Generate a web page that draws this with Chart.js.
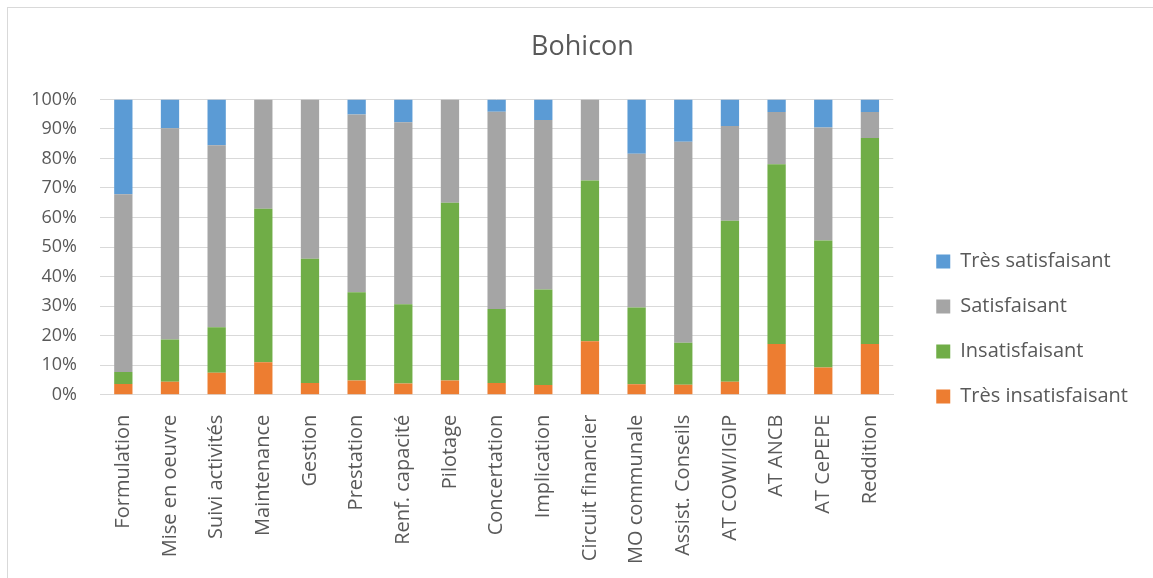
<!DOCTYPE html>
<html lang="fr">
<head>
  <meta charset="UTF-8" />
  <title>Bohicon</title>
  <script src="https://cdn.jsdelivr.net/npm/chart.js"></script>
  <style>
    body { margin: 0; background: #fff; overflow: hidden; }
    .frame {
      position: absolute; left: 7px; top: 7px;
      width: 1160px; height: 580px;
      border: 1px solid #d9d9d9;
    }
    canvas { display: block; }
  </style>
</head>
<body>
  <div class="frame">
    <canvas id="chart" width="1145" height="570"></canvas>
  </div>

  <script>
    // categories (x axis)
    const categories = [
      'Formulation', 'Mise en oeuvre', 'Suivi activités', 'Maintenance', 'Gestion',
      'Prestation', 'Renf. capacité', 'Pilotage', 'Concertation', 'Implication',
      'Circuit financier', 'MO communale', 'Assist. Conseils', 'AT COWI/IGIP',
      'AT ANCB', 'AT CePEPE', 'Reddition'
    ];

    // shares in %
    const tresInsatisfaisant = [3.6, 4.4, 7.4, 11, 4, 4.8, 3.8, 4.8, 4, 3.3, 18.1, 3.5, 3.4, 4.4, 17.2, 9.2, 17.2];
    const insatisfaisant     = [4.1, 14.3, 15.4, 52, 42, 29.9, 26.8, 60.2, 25, 32.3, 54.4, 26, 14.2, 54.5, 60.8, 43, 69.7];
    const satisfaisant       = [60.2, 71.5, 61.7, 37, 54, 60.2, 61.7, 35, 66.8, 57.4, 27.5, 52.1, 68.1, 32.1, 17.7, 38.3, 8.8];
    const tresSatisfaisant   = [32.1, 9.8, 15.5, 0, 0, 5.1, 7.7, 0, 4.2, 7, 0, 18.4, 14.3, 9, 4.3, 9.5, 4.3];

    const yTicks = [0, 10, 20, 30, 40, 50, 60, 70, 80, 90, 100];

    const textColor = '#595959';
    const font = 'Open Sans';

    new Chart(document.getElementById('chart').getContext('2d'), {
      type: 'bar',
      data: {
        labels: categories,
        datasets: [
          { label: 'Très insatisfaisant', data: tresInsatisfaisant, backgroundColor: '#ED7D31' },
          { label: 'Insatisfaisant', data: insatisfaisant, backgroundColor: '#70AD47' },
          { label: 'Satisfaisant', data: satisfaisant, backgroundColor: '#A5A5A5' },
          { label: 'Très satisfaisant', data: tresSatisfaisant, backgroundColor: '#5B9BD5' }
        ]
      },
      options: {
        responsive: false,
        animation: false,
        layout: { padding: { left: 19, right: 15, bottom: 2 } },
        datasets: { bar: { categoryPercentage: 0.8, barPercentage: 0.49 } },
        plugins: {
          title: {
            display: true,
            text: 'Bohicon',
            color: textColor,
            font: { family: font, size: 27, weight: 'normal' },
            padding: { top: 23, bottom: 36 }
          },
          legend: {
            position: 'right',
            reverse: true,
            maxWidth: 243,
            // empty title only pushes the items down
            title: { display: true, text: '', font: { size: 10 }, padding: { top: 62, bottom: 0 } },
            labels: {
              color: textColor,
              font: { family: font, size: 20 },
              boxWidth: 14,
              boxHeight: 14,
              padding: 25
            }
          },
          tooltip: { enabled: false }
        },
        scales: {
          x: {
            stacked: true,
            grid: { display: false },
            border: { color: '#d9d9d9' },
            ticks: {
              color: textColor,
              font: { family: font, size: 20 },
              minRotation: 90,
              maxRotation: 90,
              autoSkip: false,
              padding: 12
            }
          },
          y: {
            stacked: true,
            min: 0,
            max: 100,
            afterBuildTicks: scale => { scale.ticks = yTicks.map(v => ({ value: v })); },
            afterFit: scale => { scale.width = 73; },
            grid: { color: '#d9d9d9', drawTicks: false },
            border: { display: false },
            ticks: {
              color: textColor,
              font: { family: font, size: 18 },
              padding: 23,
              callback: v => v + '%'
            }
          },
          // empty spacer between plot and legend
          gap: {
            position: 'right',
            display: true,
            grid: { display: false, drawTicks: false },
            border: { display: false },
            ticks: { display: false },
            afterFit: scale => { scale.width = 18; }
          }
        }
      }
    });
  </script>
</body>
</html>
